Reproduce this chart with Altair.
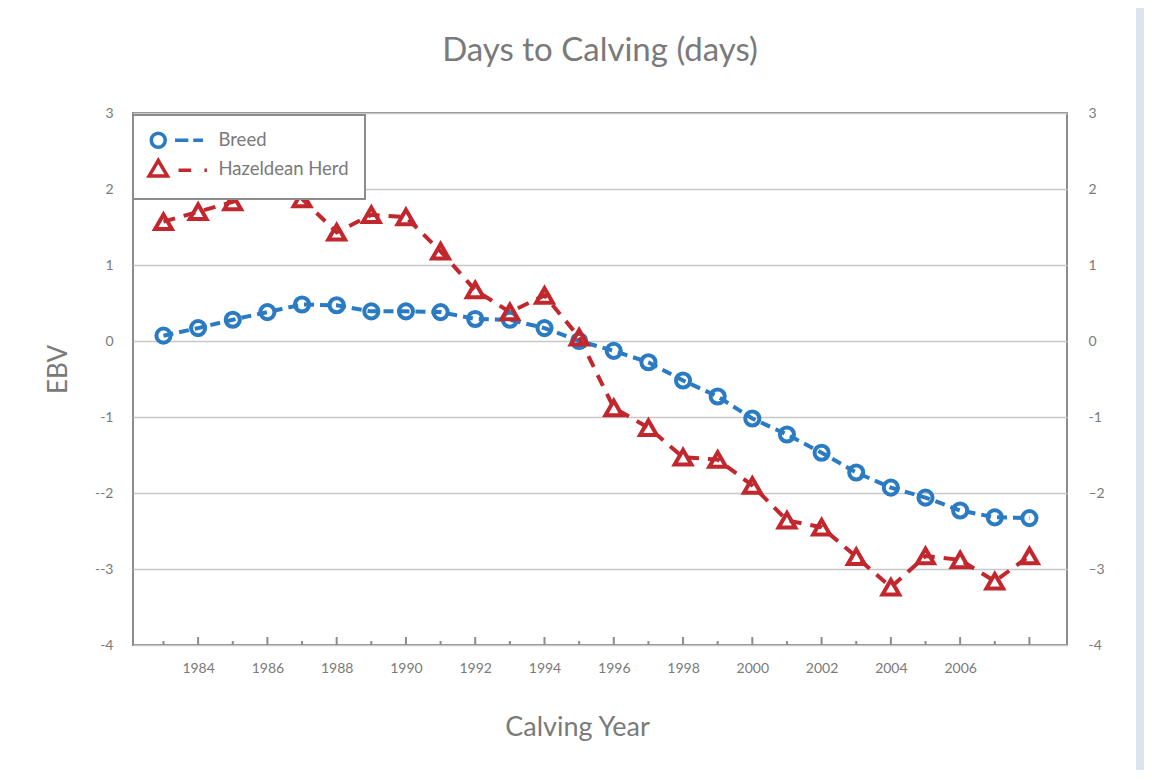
import altair as alt
import pandas as pd

# ---- data ----
years = list(range(1983, 2009))
breed = [0.07, 0.17, 0.28, 0.38, 0.48, 0.47, 0.39, 0.39, 0.38, 0.29,
         0.28, 0.17, 0.00, -0.13, -0.28, -0.52, -0.73, -1.02, -1.23, -1.47,
         -1.73, -1.93, -2.06, -2.23, -2.32, -2.33]
herd = [1.57, 1.70, 1.83, 2.05, 1.87, 1.43, 1.66, 1.63, 1.18, 0.67,
        0.38, 0.60, 0.05, -0.88, -1.14, -1.53, -1.56, -1.90, -2.36, -2.45,
        -2.84, -3.24, -2.83, -2.88, -3.16, -2.83]
series_names = ["Breed", "Hazeldean Herd"]
y_ticks = [-4, -3, -2, -1, 0, 1, 2, 3]
x_label_years = list(range(1984, 2007, 2))
tick_years = list(range(1983, 2009))

BLUE = "#2b7bc3"
RED = "#c1272d"
GRAY_TEXT = "#7a7a7a"
FRAME = "#8c8c8c"
FONT = "Lato"

df = pd.DataFrame({
    "year": years * 2,
    "ebv": breed + herd,
    "series": [series_names[0]] * len(years) + [series_names[1]] * len(years),
})
ticks_df = pd.DataFrame({"year": tick_years})

W, H = 934, 532
x_scale = alt.Scale(domain=[1982.12, 2009.085], nice=False, zero=False)
y_scale = alt.Scale(domain=[-4, 3], nice=False, zero=False)

x_axis = alt.Axis(values=x_label_years, format="d", ticks=False, domain=False,
                  grid=False, labelPadding=16, labelFontSize=14, labelColor=GRAY_TEXT,
                  labelFont=FONT, title="Calving Year", titleFontSize=27,
                  titleFont=FONT, titleColor=GRAY_TEXT, titleFontWeight="normal",
                  titleX=444, titleY=82, titleBaseline="middle", titleAlign="center")

left_axis = alt.Axis(values=y_ticks, orient="left", ticks=False, domain=False,
                     grid=True, gridColor="#c8c8c8", gridWidth=1.5,
                     labelPadding=20, labelFontSize=14, labelColor=GRAY_TEXT, labelFont=FONT,
                     labelExpr="datum.value == -2 ? '--2' : datum.value == -3 ? '--3' : "
                               "datum.value < 0 ? '-' + abs(datum.value) : '' + datum.value",
                     title="EBV", titleFontSize=26, titleFont=FONT, titleColor=GRAY_TEXT,
                     titleFontWeight="normal", titleX=-75, titleY=256, titleAngle=-90,
                     titleAlign="center", titleBaseline="middle")

right_axis = alt.Axis(values=y_ticks, orient="right", ticks=False, domain=False,
                      grid=False, labelPadding=21, labelFontSize=14, labelColor=GRAY_TEXT,
                      labelFont=FONT,
                      labelExpr="datum.value == -2 ? '\u20132' : datum.value == -3 ? '\u20133' : "
                                "datum.value < 0 ? '-' + abs(datum.value) : '' + datum.value",
                      title=None)

base = alt.Chart(df)
X = alt.X("year:Q", scale=x_scale, axis=x_axis)


def sel(name):
    return alt.datum.series == name


line_breed = base.transform_filter(sel("Breed")).mark_line(
    color=BLUE, strokeWidth=4, strokeDash=[10, 6]
).encode(
    x=X,
    y=alt.Y("ebv:Q", scale=y_scale, axis=left_axis),
)

line_herd = base.transform_filter(sel("Hazeldean Herd")).mark_line(
    color=RED, strokeWidth=4, strokeDash=[12, 9]
).encode(
    x=X,
    y=alt.Y("ebv:Q", scale=y_scale, axis=None),
)

pts_breed = base.transform_filter(sel("Breed")).mark_point(
    shape="circle", size=200, filled=False, strokeWidth=4, color=BLUE, opacity=1
).encode(
    x=X,
    y=alt.Y("ebv:Q", scale=y_scale, axis=None),
)

pts_herd = base.transform_filter(sel("Hazeldean Herd")).mark_point(
    shape="triangle-up", size=280, filled=False, strokeWidth=4, color=RED, opacity=1
).encode(
    x=X,
    y=alt.Y("ebv:Q", scale=y_scale, axis=right_axis),
)

tick_base = alt.Chart(ticks_df).encode(x=X)
ticks_long = tick_base.transform_filter("datum.year % 2 == 0").mark_rule(
    color=FRAME, strokeWidth=2
).encode(y=alt.value(H), y2=alt.value(H - 8))
ticks_short = tick_base.transform_filter("datum.year % 2 == 1").mark_rule(
    color=FRAME, strokeWidth=2
).encode(y=alt.value(H), y2=alt.value(H - 4))

# legend: custom symbols with marker + dashed line sample
breed_sym = "M1,0A1,1,0,1,1,-1,0A1,1,0,1,1,1,0Z M2.4,0L4.3,0 M5,0L6.4,0"
herd_sym = "M0,-1.25L1.3,0.95L-1.3,0.95Z M2.9,0.15L4.7,0.15 M6.6,0.15L6.95,0.15"

leg = alt.Legend(title=None, orient="none", legendX=0, legendY=2, padding=16,
                 fillColor="white", strokeColor=FRAME,
                 labelFontSize=18.5, labelColor=GRAY_TEXT, labelFont=FONT,
                 labelOffset=51, symbolSize=196, symbolStrokeWidth=3.5,
                 rowPadding=-2)

legend_layer = base.transform_filter("false").mark_point(
    filled=False, strokeWidth=3.5, opacity=1
).encode(
    x=X,
    y=alt.Y("ebv:Q", scale=y_scale, axis=None),
    color=alt.Color("series:N", scale=alt.Scale(domain=series_names, range=[BLUE, RED]),
                    legend=leg),
    shape=alt.Shape("series:N", scale=alt.Scale(domain=series_names, range=[breed_sym, herd_sym]),
                    legend=leg),
)

side_bar = alt.Chart(pd.DataFrame({"k": [0]})).mark_rect(color="#dce4f0").encode(
    x=alt.value(1003), x2=alt.value(1011), y=alt.value(-105), y2=alt.value(H + 125)
)

chart = alt.layer(
    line_breed, line_herd, pts_breed, pts_herd, ticks_long, ticks_short, legend_layer, side_bar
).resolve_axis(y="independent").properties(
    width=W, height=H,
    title=alt.Title("Days to Calving (days)", fontSize=33, color=GRAY_TEXT, font=FONT,
                    fontWeight="normal", offset=-60, anchor="middle", frame="group"),
    padding={"left": 125, "top": 105, "right": 77, "bottom": 125},
    autosize=alt.AutoSizeParams(type="none"),
).configure_view(
    stroke=FRAME, strokeWidth=2
).configure_legend(
    strokeWidth=2
)

chart.save("out.html", embed_options={"renderer": "svg", "actions": False})
